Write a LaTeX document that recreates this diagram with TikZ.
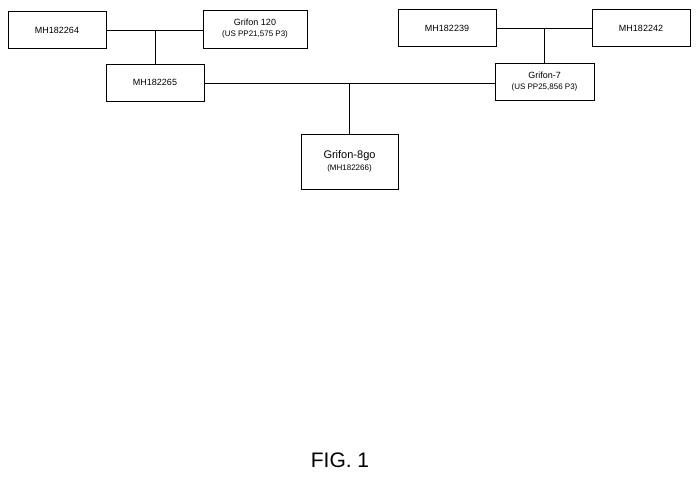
\documentclass[tikz,border=0pt]{standalone}
\usepackage{fontspec}
\setmainfont{Liberation Sans}
\begin{document}
\begin{tikzpicture}[x=1pt,y=-1pt,
  box/.style={draw,line width=1pt,minimum width=98pt,minimum height=37pt,align=center,inner sep=1pt,font=\fontsize{9}{10}\selectfont},
  ln/.style={line width=0.9pt}]
\useasboundingbox (0,0) rectangle (700,480);
\node[box] (a) at (57,30) {MH182264};
\node[box,minimum width=104pt,minimum height=38pt] (b) at (255,29) {Grifon 120\\[1pt]{\fontsize{8}{9}\selectfont(US PP21,575 P3)}};
\node[box] (c) at (447,28) {MH182239};
\node[box] (d) at (641,28) {MH182242};
\node[box] (e) at (155,82.5) {MH182265};
\node[box,minimum width=99pt] (f) at (544.5,81.5) {Grifon-7\\[1pt]{\fontsize{8}{9}\selectfont(US PP25,856 P3)}};
\node[box,minimum width=97pt,minimum height=55pt] (g) at (349.5,161.5) {{\fontsize{11}{12}\selectfont Grifon-8go}\\[2pt]{\fontsize{8}{9}\selectfont(MH182266)}};
\node (fig) at (340,460) {\fontsize{21}{24}\selectfont FIG. 1};
\draw[ln] (a.east |- 0,30) -- (b.west |- 0,30);
\coordinate (j1) at (155,30);
\draw[ln] (j1) -- (e.north);
\draw[ln] (c.east) -- (d.west);
\coordinate (j2) at (544,28);
\draw[ln] (j2) -- (j2 |- f.north);
\draw[ln] (e.east |- 0,83) -- (f.west |- 0,83);
\coordinate (j3) at (349.5,83);
\draw[ln] (j3) -- (g.north);
\end{tikzpicture}
\end{document}
